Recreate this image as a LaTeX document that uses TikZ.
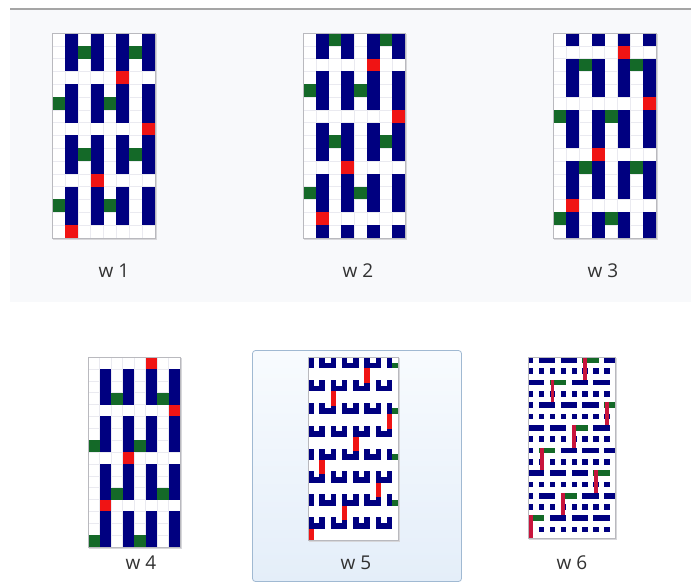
\documentclass[tikz,border=0pt]{standalone}
\usepackage{fontspec}
\setmainfont{Open Sans}
\definecolor{wblue}{RGB}{0,0,128}
\definecolor{wgreen}{RGB}{20,105,40}
\definecolor{wred}{RGB}{240,20,20}
\definecolor{wred6}{RGB}{200,20,60}
\definecolor{panelc}{RGB}{248,249,251}
\definecolor{topline}{RGB}{165,165,165}
\definecolor{gridc}{RGB}{234,234,240}
\definecolor{framec}{RGB}{185,185,190}
\definecolor{shadowc}{RGB}{215,215,218}
\definecolor{labelc}{RGB}{50,50,50}
\definecolor{selborder}{RGB}{160,185,210}
\definecolor{seltop}{RGB}{248,251,254}
\definecolor{selbot}{RGB}{228,238,249}
\newcommand\wvclassic[7]{%
  \fill[shadowc] ({#1+1},{#2+1}) rectangle ({#1+8*#3+2},{#2+16*#4+2});
  \begin{scope}[shift={(#1,#2)},x=#3pt,y=-#4pt]
    \fill[white] (0,0) rectangle (8,16);
    \foreach \c in {1,...,7}{\draw[gridln] (\c,0) -- (\c,16);}
    \foreach \r in {1,...,15}{\draw[gridln] (0,\r) -- (8,\r);}
    \begin{scope}
      \clip (0,0) rectangle (8,16);
      \foreach \c in {1,3,5,7}{\foreach \k in {-1,0,1,2,3}{\fill[wblue] (\c,{4*\k+#5+1}) rectangle ++(1,3);}}
    \end{scope}
    \foreach \c/\r in {#6}{\fill[wgreen] (\c,\r) rectangle ++(1,1);}
    \foreach \c/\r in {#7}{\fill[wred] (\c,\r) rectangle ++(1,1);}
    \draw[thumbframe] (0,0) rectangle (8,16);
  \end{scope}}
\begin{document}
\begin{tikzpicture}[x=1pt,y=-1pt,
  lbl/.style={font=\fontsize{19}{22}\selectfont, text=labelc, inner sep=0pt, anchor=center},
  thumbframe/.style={draw=framec, line width=0.6pt},
  gridln/.style={draw=gridc, line width=0.3pt}]
\useasboundingbox (0,0) rectangle (691,584);
\fill[white] (0,0) rectangle (691,584);
\fill[panelc] (10,10) rectangle (691,302);
\draw[topline, line width=1.6pt] (10,9) -- (691,9);
% selection box
\draw[selborder, line width=0.8pt, rounded corners=3pt, top color=seltop, bottom color=selbot]
  (252.5,350.5) rectangle (461.5,581.5);
% row 1
\wvclassic{52}{33}{12.875}{12.8}{3}{2/1,6/1,0/5,4/5,2/9,6/9,0/13,4/13}{5/3,7/7,3/11,1/15}
\wvclassic{303}{33}{12.75}{12.8}{2}{2/0,6/0,0/4,4/4,2/8,6/8,0/12,4/12}{5/2,7/6,3/10,1/14}
\wvclassic{553}{33}{12.9}{12.8}{1}{2/2,6/2,0/6,4/6,2/10,6/10,0/14,4/14}{5/1,7/5,3/9,1/13}
% row 2
\wvclassic{88}{357}{11.5}{11.875}{0}{2/3,6/3,0/7,4/7,2/11,6/11,0/15,4/15}{5/0,7/4,3/8,1/12}
% w5
\fill[shadowc] (309,358) rectangle (400,542);
\begin{scope}[shift={(308,357)},x=5.625pt,y=-5.72pt]
  \fill[white] (0,0) rectangle (16,32);
  \begin{scope}
    \clip (0,0) rectangle (16,32);
    \foreach \k in {0,...,7}{
      \foreach \c in {0,2,...,14}{\fill[wblue] (\c,{4*\k}) rectangle ++(1,2);}
      \pgfmathtruncatemacro\kk{mod(\k,2)}
      \ifnum\kk=0
        \foreach \c in {3,7,11}{\fill[wblue] (\c,{4*\k+1}) rectangle ++(1,1);}
        \fill[wgreen] (15,{4*\k+1}) rectangle ++(1,1);
      \else
        \foreach \c in {1,5,9,13}{\fill[wblue] (\c,{4*\k+1}) rectangle ++(1,1);}
      \fi
    }
    \foreach \k/\c in {0/10,1/4,2/14,3/8,4/2,5/12,6/6,7/0}{\fill[wred] (\c,{4*\k+2}) rectangle ++(1,2.5);}
  \end{scope}
  \draw[thumbframe] (0,0) rectangle (16,32);
\end{scope}
% w6
\fill[shadowc] (529,358) rectangle (617,540);
\begin{scope}[shift={(528,357)},x=5.44pt,y=-5.66pt]
  \fill[white] (0,0) rectangle (16,32);
  \begin{scope}
    \clip (0,0) rectangle (16,32);
    \foreach \k in {0,...,7}{
      \foreach \c in {0,2,...,14}{\fill[wblue] (\c,{4*\k+2}) rectangle ++(1,1);}
      \pgfmathtruncatemacro\kk{mod(\k,2)}
      \ifnum\kk=0
        \foreach \c in {2,6,10,14}{\fill[wblue] (\c,{4*\k}) rectangle ++(3,1);}
        \fill[wblue] (0,{4*\k}) rectangle ++(1,1);
      \else
        \foreach \c in {0,4,8,12}{\fill[wblue] (\c,{4*\k}) rectangle ++(3,1);}
      \fi
    }
    \foreach \k/\c in {0/10,1/4,2/14,3/8,4/2,5/12,6/6,7/0}{
      \fill[wgreen] (\c,{4*\k}) rectangle ++(3,1);
      \fill[wred6] ({\c+0.15},{4*\k}) rectangle ++(0.7,4);}
  \end{scope}
  \draw[thumbframe] (0,0) rectangle (16,32);
\end{scope}
% labels
\node[lbl] (l1) at (114,271) {w 1};
\node[lbl] (l2) at (358,271) {w 2};
\node[lbl] (l3) at (603,271) {w 3};
\node[lbl] (l4) at (141,563) {w 4};
\node[lbl] (l5) at (356,563) {w 5};
\node[lbl] (l6) at (572,563) {w 6};
\end{tikzpicture}
\end{document}
